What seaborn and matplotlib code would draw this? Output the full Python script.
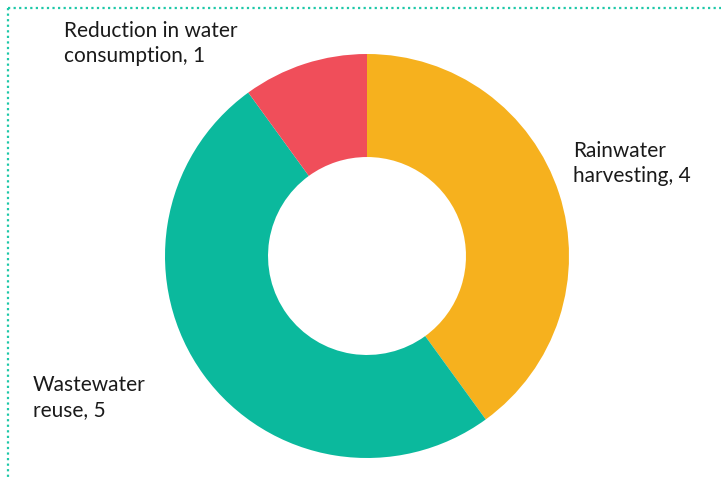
import matplotlib
matplotlib.use("Agg")
import matplotlib.pyplot as plt
import seaborn as sns
from matplotlib.lines import Line2D

# Data
labels = ["Rainwater\nharvesting, 4", "Wastewater\nreuse, 5", "Reduction in water\nconsumption, 1"]
values = [4, 5, 1]
colors = ["#F6B11E", "#0BB99D", "#F04E5A"]

sns.set_theme(style="white")
plt.rcParams["font.family"] = ["Lato", "DejaVu Sans"]

W, H = 721, 479
fig = plt.figure(figsize=(W / 100, H / 100), dpi=100)
fig.patch.set_facecolor("white")

# donut centred at (367, 256) px, radius 202 px
cx, cy, r = 367, 256, 202
ax = fig.add_axes([(cx - r) / W, (H - cy - r) / H, 2 * r / W, 2 * r / H])
ax.pie(values, colors=colors, startangle=90, counterclock=False,
       radius=1, wedgeprops=dict(width=0.51, linewidth=0))
ax.set_xlim(-1, 1)
ax.set_ylim(-1, 1)
ax.set_axis_off()

# labels placed in pixel space
def px(x, y):
    return x / W, 1 - y / H

txt = dict(fontsize=15, color="#1a1a1a", ha="left", va="top", linespacing=1.32)
fig.text(*px(64, 21), labels[2], **txt)
fig.text(*px(573, 141), labels[0], **txt)
fig.text(*px(33, 375), labels[1], **txt)

# dotted frame on top and left
border = "#1EC8A8"
fig.add_artist(Line2D([8 / W, 1], [1 - 8 / H] * 2, transform=fig.transFigure,
                      color=border, lw=1.6, linestyle=(0, (1, 1.5))))
fig.add_artist(Line2D([8 / W] * 2, [1 - 8 / H, 0], transform=fig.transFigure,
                      color=border, lw=1.6, linestyle=(0, (1, 1.5))))

fig.savefig("out.png", dpi=100)
